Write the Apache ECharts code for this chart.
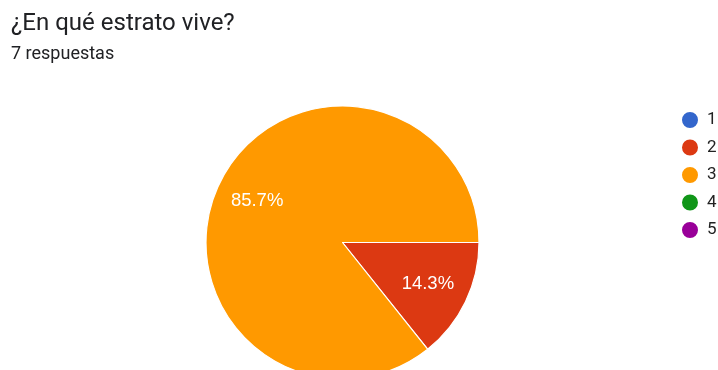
<!DOCTYPE html>
<html>
<head>
<meta charset="utf-8">
<script src="https://cdn.jsdelivr.net/npm/echarts@6/dist/echarts.min.js"></script>
<style>
html,body{margin:0;padding:0;background:#fff;}
#c{width:718px;height:370px;}
</style>
</head>
<body>
<div id="c"></div>
<script>
const titleText = "¿En qué estrato vive?";
const subtitleText = "7 respuestas";
const categories = ["1", "2", "3", "4", "5"];
const values = [0, 1, 6, 0, 0];
const colors = ["#3366cc", "#dc3912", "#ff9900", "#109618", "#990099"];

const data = categories.map((c, i) => ({ name: c, value: values[i] }));
const chart = echarts.init(document.getElementById('c'), null, { renderer: 'canvas' });
chart.setOption({
  animation: false,
  color: colors,
  title: [
    { text: titleText, left: 11, top: 12, padding: 0,
      textStyle: { fontFamily: 'Roboto', fontSize: 24, fontWeight: 'normal', color: '#202124' } },
    { text: subtitleText, left: 11, top: 45, padding: 0,
      textStyle: { fontFamily: 'Roboto', fontSize: 18, fontWeight: 'normal', color: '#202124' } }
  ],
  legend: {
    orient: 'vertical',
    left: 680, top: 110, padding: 0,
    icon: 'circle',
    itemWidth: 18, itemHeight: 18, itemGap: 7.5,
    data: categories,
    textStyle: { fontFamily: 'Roboto', fontSize: 17, color: '#222', padding: [0, 0, 0, 3] }
  },
  series: [
    {
      type: 'pie',
      center: [342.5, 242.5],
      radius: [0, 136.5],
      startAngle: 0,
      clockwise: true,
      data: data,
      label: { show: false },
      labelLine: { show: false },
      itemStyle: { borderColor: '#fff', borderWidth: 1.2 },
      emphasis: { disabled: true },
      silent: true
    },
    {
      type: 'pie',
      center: [342.5, 242.5],
      radius: [47, 136.5],
      startAngle: 0,
      clockwise: true,
      data: data,
      legendHoverLink: false,
      itemStyle: { color: 'rgba(0,0,0,0)' },
      label: {
        show: true, position: 'inside',
        formatter: p => p.value > 0 ? (p.percent.toFixed(1) + '%') : '',
        color: '#fff', fontFamily: 'Liberation Sans, Arial', fontSize: 18.5
      },
      labelLine: { show: false },
      emphasis: { disabled: true },
      silent: true
    }
  ]
});
</script>
</body>
</html>
